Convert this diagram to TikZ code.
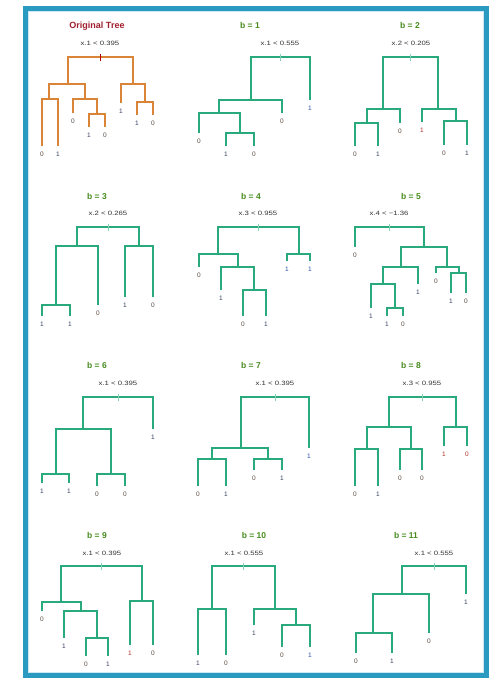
\documentclass[tikz,border=0pt]{standalone}
\usepackage{fontspec}
\usepackage{graphicx}
\setmainfont{Liberation Sans}
\definecolor{framebl}{RGB}{42,154,192}
\definecolor{frameli}{RGB}{205,232,242}
\definecolor{treegreen}{RGB}{40,170,125}
\definecolor{treeorange}{RGB}{218,132,55}
\definecolor{titlegreen}{RGB}{70,140,30}
\definecolor{titlered}{RGB}{160,30,45}
\definecolor{labzero}{RGB}{90,75,65}
\definecolor{labone}{RGB}{55,65,95}
\definecolor{labblue}{RGB}{40,80,170}
\definecolor{labred}{RGB}{170,50,40}
\tikzset{
  tree/.style={line width=1.8pt, draw=treegreen},
  otree/.style={tree, draw=treeorange},
  gtick/.style={line width=0.6pt, draw=treegreen!55},
  otick/.style={line width=0.5pt, draw=red!70!black},
  lab/.style={font=\fontsize{6.5}{7}\selectfont, inner sep=0pt, below=5.5pt},
  lz/.style={lab, text=labzero},
  lo/.style={lab, text=labone},
  lb/.style={lab, text=labblue},
  lr/.style={lab, text=labred},
  ttl/.style={font=\bfseries\fontsize{8.5}{10}\selectfont, text=titlegreen, inner sep=0pt},
  ottl/.style={font=\bfseries\fontsize{9}{10}\selectfont, text=titlered, inner sep=0pt},
  split/.style={font=\fontsize{6.2}{7}\selectfont, text=black!80, inner sep=0pt}
}
\newcommand{\splt}[1]{\scalebox{1.25}[1]{#1}}
\begin{document}
\begin{tikzpicture}[x=1pt,y=-1pt]
\useasboundingbox (0,0) rectangle (490,678);
% frame
\draw[line width=1pt, frameli] (28.5,11.5) rectangle (483.5,672.5);
\draw[line width=5pt, framebl] (25.5,8.5) rectangle (486.5,675.5);

% ---------------- Original Tree
\node[ottl] (oT) at (97,26) {Original Tree};
\node[split] (oS) at (100,43) {\splt{x.1 < 0.395}};
\coordinate (oR) at (100.5,57);
\coordinate (oA) at (68,84);
\coordinate (oB) at (133,84);
\coordinate (oAA) at (49,99);
\coordinate (oAB) at (85,99);
\coordinate (oL1) at (42,146);
\coordinate (oL2) at (58,146);
\coordinate (oL3) at (73,113);
\coordinate (oABB) at (97,114);
\coordinate (oL4) at (89,127);
\coordinate (oL5) at (105,127);
\coordinate (oL6) at (121,103);
\coordinate (oBB) at (145,102);
\coordinate (oL7) at (137,115);
\coordinate (oL8) at (153,115);
\draw[otree] (oA) |- (oR) -| (oB);
\draw[otree] (oAA) |- (oA) -| (oAB);
\draw[otree] (oL1) |- (oAA) -| (oL2);
\draw[otree] (oL3) |- (oAB) -| (oABB);
\draw[otree] (oL4) |- (oABB) -| (oL5);
\draw[otree] (oL6) |- (oB) -| (oBB);
\draw[otree] (oL7) |- (oBB) -| (oL8);
\draw[otick] ([yshift=3pt]oR) -- ([yshift=-4pt]oR);
\node[lz] (oN1) at (oL1) {0};
\node[lo] (oN2) at (oL2) {1};
\node[lz] (oN3) at (oL3) {0};
\node[lo] (oN4) at (oL4) {1};
\node[lz] (oN5) at (oL5) {0};
\node[lo] (oN6) at (oL6) {1};
\node[lo] (oN7) at (oL7) {1};
\node[lz] (oN8) at (oL8) {0};

% ---------------- b = 1
\node[ttl] (aT) at (250,25) {b = 1};
\node[split] (aS) at (280,43) {\splt{x.1 < 0.555}};
\coordinate (aR) at (280.5,57);
\coordinate (aA) at (251,100);
\coordinate (aL1) at (310,100);
\coordinate (aAA) at (219,113);
\coordinate (aL2) at (282,113);
\coordinate (aL3) at (199,133);
\coordinate (aAAB) at (240,133);
\coordinate (aL4) at (226,146);
\coordinate (aL5) at (254,146);
\draw[tree] (aA) |- (aR) -| (aL1);
\draw[tree] (aAA) |- (aA) -| (aL2);
\draw[tree] (aL3) |- (aAA) -| (aAAB);
\draw[tree] (aL4) |- (aAAB) -| (aL5);
\draw[gtick] ([yshift=3pt]aR) -- ([yshift=-4pt]aR);
\node[lb] (aN1) at (aL1) {1};
\node[lz] (aN2) at (aL2) {0};
\node[lz] (aN3) at (aL3) {0};
\node[lo] (aN4) at (aL4) {1};
\node[lz] (aN5) at (aL5) {0};

% ---------------- b = 2
\node[ttl] (bT) at (410,25) {b = 2};
\node[split] (bS) at (411,43) {\splt{x.2 < 0.205}};
\coordinate (bR) at (410.5,57);
\coordinate (bA) at (383,109);
\coordinate (bB) at (438,109);
\coordinate (bAA) at (367,123);
\coordinate (bL3) at (400,123);
\coordinate (bL1) at (355,146);
\coordinate (bL2) at (378,146);
\coordinate (bL4) at (422,122);
\coordinate (bBB) at (456,121);
\coordinate (bL5) at (444,145);
\coordinate (bL6) at (467,145);
\draw[tree] (bA) |- (bR) -| (bB);
\draw[tree] (bAA) |- (bA) -| (bL3);
\draw[tree] (bL1) |- (bAA) -| (bL2);
\draw[tree] (bL4) |- (bB) -| (bBB);
\draw[tree] (bL5) |- (bBB) -| (bL6);
\draw[gtick] ([yshift=3pt]bR) -- ([yshift=-4pt]bR);
\node[lz] (bN1) at (bL1) {0};
\node[lo] (bN2) at (bL2) {1};
\node[lz] (bN3) at (bL3) {0};
\node[lr] (bN4) at (bL4) {1};
\node[lz] (bN5) at (bL5) {0};
\node[lo] (bN6) at (bL6) {1};

% ---------------- b = 3
\node[ttl] (cT) at (97,196) {b = 3};
\node[split] (cS) at (108,213) {\splt{x.2 < 0.265}};
\coordinate (cR) at (108,227);
\coordinate (cA) at (77,246);
\coordinate (cB) at (139,246);
\coordinate (cAA) at (56,305);
\coordinate (cL3) at (98,305);
\coordinate (cL1) at (42,316);
\coordinate (cL2) at (70,316);
\coordinate (cL4) at (125,297);
\coordinate (cL5) at (153,297);
\draw[tree] (cA) |- (cR) -| (cB);
\draw[tree] (cAA) |- (cA) -| (cL3);
\draw[tree] (cL1) |- (cAA) -| (cL2);
\draw[tree] (cL4) |- (cB) -| (cL5);
\draw[gtick] ([yshift=3pt]cR) -- ([yshift=-4pt]cR);
\node[lo] (cN1) at (cL1) {1};
\node[lo] (cN2) at (cL2) {1};
\node[lz] (cN3) at (cL3) {0};
\node[lo] (cN4) at (cL4) {1};
\node[lz] (cN5) at (cL5) {0};

% ---------------- b = 4
\node[ttl] (dT) at (251,196) {b = 4};
\node[split] (dS) at (258,213) {\splt{x.3 < 0.955}};
\coordinate (dR) at (258.5,227);
\coordinate (dA) at (218,254);
\coordinate (dB) at (299,254);
\coordinate (dL1) at (199,267);
\coordinate (dAB) at (238,267);
\coordinate (dL2) at (221,290);
\coordinate (dABB) at (254,290);
\coordinate (dL3) at (243,316);
\coordinate (dL4) at (266,316);
\coordinate (dL5) at (287,261);
\coordinate (dL6) at (310,261);
\draw[tree] (dA) |- (dR) -| (dB);
\draw[tree] (dL1) |- (dA) -| (dAB);
\draw[tree] (dL2) |- (dAB) -| (dABB);
\draw[tree] (dL3) |- (dABB) -| (dL4);
\draw[tree] (dL5) |- (dB) -| (dL6);
\draw[gtick] ([yshift=3pt]dR) -- ([yshift=-4pt]dR);
\node[lz] (dN1) at (dL1) {0};
\node[lo] (dN2) at (dL2) {1};
\node[lz] (dN3) at (dL3) {0};
\node[lo] (dN4) at (dL4) {1};
\node[lb] (dN5) at (dL5) {1};
\node[lb] (dN6) at (dL6) {1};

% ---------------- b = 5
\node[ttl] (eT) at (411,196) {b = 5};
\node[split] (eS) at (389,213) {\splt{x.4 < −1.36}};
\coordinate (eR) at (389.5,227);
\coordinate (eL1) at (355,247);
\coordinate (eB) at (424,247);
\coordinate (eBA) at (401,267);
\coordinate (eBB) at (447,267);
\coordinate (eBAA) at (383,284);
\coordinate (eL2) at (418,284);
\coordinate (eL3) at (371,308);
\coordinate (eBAAB) at (395,308);
\coordinate (eL4) at (387,316);
\coordinate (eL5) at (403,316);
\coordinate (eL6) at (436,273);
\coordinate (eBBB) at (459,273);
\coordinate (eL7) at (451,293);
\coordinate (eL8) at (466,293);
\draw[tree] (eL1) |- (eR) -| (eB);
\draw[tree] (eBA) |- (eB) -| (eBB);
\draw[tree] (eBAA) |- (eBA) -| (eL2);
\draw[tree] (eL3) |- (eBAA) -| (eBAAB);
\draw[tree] (eL4) |- (eBAAB) -| (eL5);
\draw[tree] (eL6) |- (eBB) -| (eBBB);
\draw[tree] (eL7) |- (eBBB) -| (eL8);
\draw[gtick] ([yshift=3pt]eR) -- ([yshift=-4pt]eR);
\node[lz] (eN1) at (eL1) {0};
\node[lo] (eN2) at (eL2) {1};
\node[lo] (eN3) at (eL3) {1};
\node[lo] (eN4) at (eL4) {1};
\node[lz] (eN5) at (eL5) {0};
\node[lz] (eN6) at (eL6) {0};
\node[lo] (eN7) at (eL7) {1};
\node[lz] (eN8) at (eL8) {0};

% ---------------- b = 6
\node[ttl] (fT) at (97,365) {b = 6};
\node[split] (fS) at (118,383) {\splt{x.1 < 0.395}};
\coordinate (fR) at (118,397);
\coordinate (fA) at (83,429);
\coordinate (fL1) at (153,429);
\coordinate (fAA) at (56,474);
\coordinate (fAB) at (111,474);
\coordinate (fL2) at (42,483);
\coordinate (fL3) at (69,483);
\coordinate (fL4) at (97,486);
\coordinate (fL5) at (125,486);
\draw[tree] (fA) |- (fR) -| (fL1);
\draw[tree] (fAA) |- (fA) -| (fAB);
\draw[tree] (fL2) |- (fAA) -| (fL3);
\draw[tree] (fL4) |- (fAB) -| (fL5);
\draw[gtick] ([yshift=3pt]fR) -- ([yshift=-4pt]fR);
\node[lo] (fN1) at (fL1) {1};
\node[lo] (fN2) at (fL2) {1};
\node[lo] (fN3) at (fL3) {1};
\node[lz] (fN4) at (fL4) {0};
\node[lz] (fN5) at (fL5) {0};

% ---------------- b = 7
\node[ttl] (gT) at (251,365) {b = 7};
\node[split] (gS) at (275,383) {\splt{x.1 < 0.395}};
\coordinate (gR) at (275,397);
\coordinate (gA) at (241,448);
\coordinate (gL1) at (309,448);
\coordinate (gAA) at (212,459);
\coordinate (gAB) at (268,459);
\coordinate (gL2) at (198,486);
\coordinate (gL3) at (226,486);
\coordinate (gL4) at (254,470);
\coordinate (gL5) at (282,470);
\draw[tree] (gA) |- (gR) -| (gL1);
\draw[tree] (gAA) |- (gA) -| (gAB);
\draw[tree] (gL2) |- (gAA) -| (gL3);
\draw[tree] (gL4) |- (gAB) -| (gL5);
\draw[gtick] ([yshift=3pt]gR) -- ([yshift=-4pt]gR);
\node[lb] (gN1) at (gL1) {1};
\node[lz] (gN2) at (gL2) {0};
\node[lo] (gN3) at (gL3) {1};
\node[lz] (gN4) at (gL4) {0};
\node[lo] (gN5) at (gL5) {1};

% ---------------- b = 8
\node[ttl] (hT) at (411,365) {b = 8};
\node[split] (hS) at (422,383) {\splt{x.3 < 0.955}};
\coordinate (hR) at (422.5,397);
\coordinate (hA) at (389,427);
\coordinate (hB) at (456,427);
\coordinate (hAA) at (367,449);
\coordinate (hAB) at (411,449);
\coordinate (hL1) at (355,486);
\coordinate (hL2) at (378,486);
\coordinate (hL3) at (400,470);
\coordinate (hL4) at (422,470);
\coordinate (hL5) at (444,446);
\coordinate (hL6) at (467,446);
\draw[tree] (hA) |- (hR) -| (hB);
\draw[tree] (hAA) |- (hA) -| (hAB);
\draw[tree] (hL1) |- (hAA) -| (hL2);
\draw[tree] (hL3) |- (hAB) -| (hL4);
\draw[tree] (hL5) |- (hB) -| (hL6);
\draw[gtick] ([yshift=3pt]hR) -- ([yshift=-4pt]hR);
\node[lz] (hN1) at (hL1) {0};
\node[lo] (hN2) at (hL2) {1};
\node[lz] (hN3) at (hL3) {0};
\node[lz] (hN4) at (hL4) {0};
\node[lr] (hN5) at (hL5) {1};
\node[lr] (hN6) at (hL6) {0};

% ---------------- b = 9
\node[ttl] (iT) at (97,535) {b = 9};
\node[split] (iS) at (102,553) {\splt{x.1 < 0.395}};
\coordinate (iR) at (101.5,566);
\coordinate (iA) at (61,602);
\coordinate (iB) at (142,601);
\coordinate (iL1) at (42,611);
\coordinate (iAB) at (81,611);
\coordinate (iL2) at (64,638);
\coordinate (iABB) at (97,638);
\coordinate (iL3) at (86,656);
\coordinate (iL4) at (108,656);
\coordinate (iL5) at (130,645);
\coordinate (iL6) at (153,645);
\draw[tree] (iA) |- (iR) -| (iB);
\draw[tree] (iL1) |- (iA) -| (iAB);
\draw[tree] (iL2) |- (iAB) -| (iABB);
\draw[tree] (iL3) |- (iABB) -| (iL4);
\draw[tree] (iL5) |- (iB) -| (iL6);
\draw[gtick] ([yshift=3pt]iR) -- ([yshift=-4pt]iR);
\node[lz] (iN1) at (iL1) {0};
\node[lo] (iN2) at (iL2) {1};
\node[lz] (iN3) at (iL3) {0};
\node[lo] (iN4) at (iL4) {1};
\node[lr] (iN5) at (iL5) {1};
\node[lz] (iN6) at (iL6) {0};

% ---------------- b = 10
\node[ttl] (jT) at (254,535) {b = 10};
\node[split] (jS) at (244,553) {\splt{x.1 < 0.555}};
\coordinate (jR) at (243.5,566);
\coordinate (jA) at (212,609);
\coordinate (jB) at (275,609);
\coordinate (jL1) at (198,655);
\coordinate (jL2) at (226,655);
\coordinate (jL3) at (254,625);
\coordinate (jBB) at (296,625);
\coordinate (jL4) at (282,647);
\coordinate (jL5) at (310,647);
\draw[tree] (jA) |- (jR) -| (jB);
\draw[tree] (jL1) |- (jA) -| (jL2);
\draw[tree] (jL3) |- (jB) -| (jBB);
\draw[tree] (jL4) |- (jBB) -| (jL5);
\draw[gtick] ([yshift=3pt]jR) -- ([yshift=-4pt]jR);
\node[lo] (jN1) at (jL1) {1};
\node[lz] (jN2) at (jL2) {0};
\node[lo] (jN3) at (jL3) {1};
\node[lz] (jN4) at (jL4) {0};
\node[lb] (jN5) at (jL5) {1};

% ---------------- b = 11
\node[ttl] (kT) at (406,535) {b = 11};
\node[split] (kS) at (434,553) {\splt{x.1 < 0.555}};
\coordinate (kR) at (434,566);
\coordinate (kA) at (402,594);
\coordinate (kL1) at (466,594);
\coordinate (kAA) at (373,633);
\coordinate (kL2) at (429,633);
\coordinate (kL3) at (356,653);
\coordinate (kL4) at (392,653);
\draw[tree] (kA) |- (kR) -| (kL1);
\draw[tree] (kAA) |- (kA) -| (kL2);
\draw[tree] (kL3) |- (kAA) -| (kL4);
\draw[gtick] ([yshift=3pt]kR) -- ([yshift=-4pt]kR);
\node[lo] (kN1) at (kL1) {1};
\node[lz] (kN2) at (kL2) {0};
\node[lz] (kN3) at (kL3) {0};
\node[lo] (kN4) at (kL4) {1};
\end{tikzpicture}
\end{document}
